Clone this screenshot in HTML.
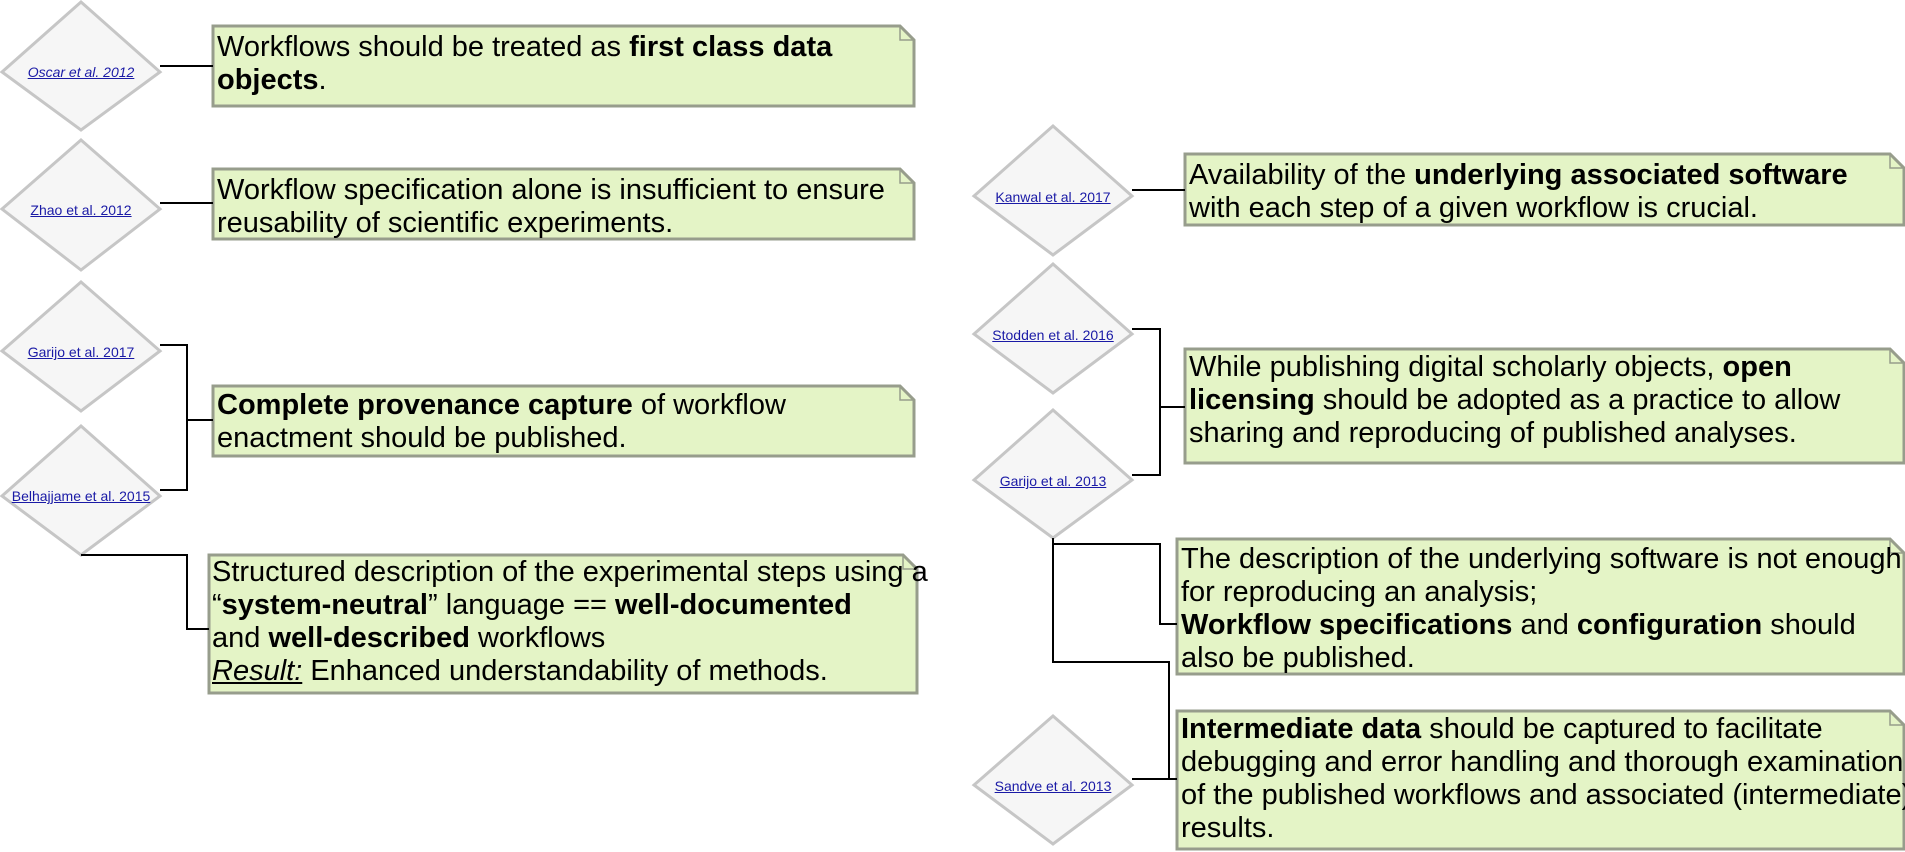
<!DOCTYPE html>
<html><head><meta charset="utf-8"><style>
body{margin:0;width:1905px;height:852px;background:#fff;position:relative;overflow:hidden;font-family:"Liberation Sans",sans-serif}
svg{position:absolute;left:0;top:0}
.t{position:absolute;font-size:29px;line-height:33px;color:#000;white-space:nowrap;letter-spacing:0}
.l{position:absolute;font-size:14px;color:#1a1aa6;text-decoration:underline;white-space:nowrap;transform:translate(-50%,-50%)}
</style></head><body>
<svg width="1905" height="852">
<g fill="#f6f6f6" stroke="#c6c6c6" stroke-width="3">
<polygon points="81,2 160,72 81,130 2,72"/>
<polygon points="81,140 160,209 81,270 2,209"/>
<polygon points="81,282 160,351 81,411 2,351"/>
<polygon points="81,426 160,496 81,555 2,496"/>
<polygon points="1053,126 1132,196 1053,255 974,196"/>
<polygon points="1053,264 1132,334 1053,393 974,334"/>
<polygon points="1053,410 1132,480 1053,538 974,480"/>
<polygon points="1053,716 1132,785 1053,844 974,785"/>
</g>
<g fill="#e4f4c6" stroke="#979d8c" stroke-width="3">
<path d="M213,26 H900 L914,40 V106 H213 Z"/>
<path d="M213,169 H900 L914,183 V239 H213 Z"/>
<path d="M213,386 H900 L914,400 V456 H213 Z"/>
<path d="M209,555 H903 L917,569 V693 H209 Z"/>
<path d="M1185,154 H1890 L1904,168 V225 H1185 Z"/>
<path d="M1185,349 H1890 L1904,363 V463 H1185 Z"/>
<path d="M1177,539 H1890 L1904,553 V674 H1177 Z"/>
<path d="M1177,711 H1890 L1904,725 V849 H1177 Z"/>
</g>
<g fill="none" stroke="#979d8c" stroke-width="1.5">
<path d="M900,26 V40 H914"/><path d="M900,169 V183 H914"/><path d="M900,386 V400 H914"/><path d="M903,555 V569 H917"/>
<path d="M1890,154 V168 H1904"/><path d="M1890,349 V363 H1904"/><path d="M1890,539 V553 H1904"/><path d="M1890,711 V725 H1904"/>
</g>
<g fill="none" stroke="#000" stroke-width="2">
<path d="M160,66 H213"/>
<path d="M160,203 H213"/>
<path d="M160,345 H187 V490 H160 M187,420 H213"/>
<path d="M81,555 H187 V629 H209"/>
<path d="M1132,190 H1185"/>
<path d="M1132,329 H1160 V475 H1132 M1160,407 H1185"/>
<path d="M1053,538 V544 H1160 V624 H1177"/>
<path d="M1053,544 V662 H1169 V779 H1177"/>
<path d="M1132,779 H1177"/>
</g>
</svg>
<div class="l" style="left:81px;top:72px;font-style:italic">Oscar et al. 2012</div>
<div class="l" style="left:81px;top:210px">Zhao et al. 2012</div>
<div class="l" style="left:81px;top:352px">Garijo et al. 2017</div>
<div class="l" style="left:81px;top:496px">Belhajjame et al. 2015</div>
<div class="l" style="left:1053px;top:197px">Kanwal et al. 2017</div>
<div class="l" style="left:1053px;top:335px">Stodden et al. 2016</div>
<div class="l" style="left:1053px;top:481px">Garijo et al. 2013</div>
<div class="l" style="left:1053px;top:786px">Sandve et al. 2013</div>

<div class="t" style="left:217px;top:31px">Workflows should be treated as <b>first class data</b><br><b>objects</b>.</div>
<div class="t" style="left:217px;top:174px">Workflow specification alone is insufficient to ensure<br>reusability of scientific experiments.</div>
<div class="t" style="left:217px;top:389px"><b>Complete provenance capture</b> of workflow<br>enactment should be published.</div>
<div class="t" style="left:212px;top:556px">Structured description of the experimental steps using a<br>“<b>system-neutral</b>” language == <b>well-documented</b><br>and <b>well-described</b> workflows<br><i><u>Result:</u></i> Enhanced understandability of methods.</div>
<div class="t" style="left:1189px;top:159px">Availability of the <b>underlying associated software</b><br>with each step of a given workflow is crucial.</div>
<div class="t" style="left:1189px;top:351px">While publishing digital scholarly objects, <b>open</b><br><b>licensing</b> should be adopted as a practice to allow<br>sharing and reproducing of published analyses.</div>
<div class="t" style="left:1181px;top:543px">The description of the underlying software is not enough<br>for reproducing an analysis;<br><b>Workflow specifications</b> and <b>configuration</b> should<br>also be published.</div>
<div class="t" style="left:1181px;top:713px"><b>Intermediate data</b> should be captured to facilitate<br>debugging and error handling and thorough examination<br>of the published workflows and associated (intermediate)<br>results.</div>
</body></html>
